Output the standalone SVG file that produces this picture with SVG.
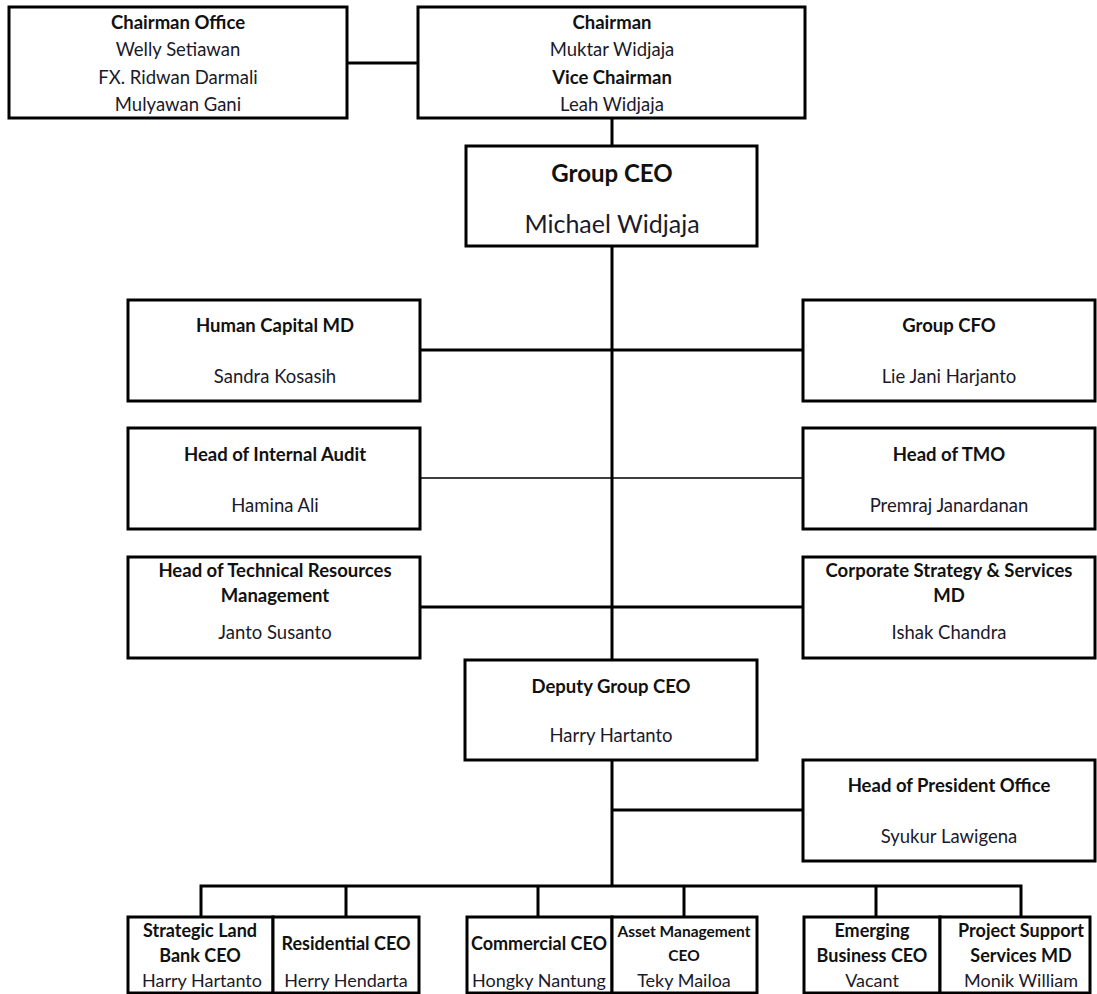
<svg xmlns="http://www.w3.org/2000/svg" width="1097" height="994" viewBox="0 0 1097 994">
<style>
.box{fill:#fff;stroke:#000;stroke-width:3}
.ln{fill:none;stroke:#000;stroke-width:3}
.thin{fill:none;stroke:#000;stroke-width:1.6}
text{font-family:Lato,"Liberation Sans",sans-serif;text-anchor:middle;dominant-baseline:central;fill:#111}
.b{font-weight:bold;font-size:18.5px}
.n{font-size:18.5px;fill:#1a1a2a}
.bl{font-weight:bold;font-size:24px}
.nl{font-size:25px;fill:#1a1a2a}
.bs{font-weight:bold;font-size:18.5px}
.ns{font-size:18.5px;fill:#1a1a2a}
.bx{font-weight:bold;font-size:18px}
.nx{font-size:18px;fill:#1a1a2a}
</style>
<rect width="1097" height="994" fill="#fff"/>
<g id="connectors">
<line class="ln" x1="347" y1="63" x2="418" y2="63"/>
<line class="ln" x1="612" y1="118" x2="612" y2="146"/>
<line class="ln" x1="612" y1="246" x2="612" y2="660"/>
<line class="ln" x1="420" y1="350" x2="803" y2="350"/>
<line class="thin" x1="420" y1="478" x2="803" y2="478"/>
<line class="ln" x1="420" y1="607" x2="803" y2="607"/>
<line class="ln" x1="612" y1="760" x2="612" y2="886"/>
<line class="ln" x1="612" y1="810" x2="803" y2="810"/>
<polyline class="ln" points="201,917 201,886 1021,886 1021,917"/>
<line class="ln" x1="346" y1="886" x2="346" y2="917"/>
<line class="ln" x1="538" y1="886" x2="538" y2="917"/>
<line class="ln" x1="684" y1="886" x2="684" y2="917"/>
<line class="ln" x1="876" y1="886" x2="876" y2="917"/>
</g>
<g id="chairman-office">
<rect class="box" x="9" y="7" width="338" height="111"/>
<text class="b" x="178" y="22">Chairman Office</text>
<text class="n" x="178" y="49">Welly Setiawan</text>
<text class="n" x="178" y="77">FX. Ridwan Darmali</text>
<text class="n" x="178" y="104">Mulyawan Gani</text>
</g>
<g id="chairman">
<rect class="box" x="418" y="7" width="387" height="111"/>
<text class="b" x="612" y="22">Chairman</text>
<text class="n" x="612" y="49">Muktar Widjaja</text>
<text class="b" x="612" y="77">Vice Chairman</text>
<text class="n" x="612" y="104">Leah Widjaja</text>
</g>
<g id="group-ceo">
<rect class="box" x="466" y="146" width="291" height="100"/>
<text class="bl" x="612" y="172">Group CEO</text>
<text class="nl" x="612" y="223">Michael Widjaja</text>
</g>
<g id="human-capital">
<rect class="box" x="128" y="300" width="292" height="101"/>
<text class="bs" x="275" y="325">Human Capital MD</text>
<text class="ns" x="275" y="376">Sandra Kosasih</text>
</g>
<g id="internal-audit">
<rect class="box" x="128" y="428" width="292" height="101"/>
<text class="bs" x="275" y="454">Head of Internal Audit</text>
<text class="ns" x="275" y="505">Hamina Ali</text>
</g>
<g id="technical-resources">
<rect class="box" x="128" y="557" width="292" height="101"/>
<text class="bs" x="275" y="570">Head of Technical Resources</text>
<text class="bs" x="275" y="595">Management</text>
<text class="ns" x="275" y="632">Janto Susanto</text>
</g>
<g id="group-cfo">
<rect class="box" x="803" y="300" width="292" height="101"/>
<text class="bs" x="949" y="325">Group CFO</text>
<text class="ns" x="949" y="376">Lie Jani Harjanto</text>
</g>
<g id="head-tmo">
<rect class="box" x="803" y="428" width="292" height="101"/>
<text class="bs" x="949" y="454">Head of TMO</text>
<text class="ns" x="949" y="505">Premraj Janardanan</text>
</g>
<g id="corporate-strategy">
<rect class="box" x="803" y="557" width="292" height="101"/>
<text class="bs" x="949" y="570">Corporate Strategy &amp; Services</text>
<text class="bs" x="949" y="595">MD</text>
<text class="ns" x="949" y="632">Ishak Chandra</text>
</g>
<g id="deputy-ceo">
<rect class="box" x="465" y="660" width="292" height="100"/>
<text class="bs" x="611" y="686">Deputy Group CEO</text>
<text class="ns" x="611" y="735">Harry Hartanto</text>
</g>
<g id="president-office">
<rect class="box" x="803" y="760" width="292" height="101"/>
<text class="bs" x="949" y="785">Head of President Office</text>
<text class="ns" x="949" y="836">Syukur Lawigena</text>
</g>
<g id="strategic-land">
<rect class="box" x="128" y="917" width="145" height="76"/>
<text class="bx" x="200" y="930">Strategic Land</text>
<text class="bx" x="200" y="955">Bank CEO</text>
<text class="nx" x="202" y="980">Harry Hartanto</text>
</g>
<g id="residential">
<rect class="box" x="273" y="917" width="146" height="76"/>
<text class="bx" x="346" y="943">Residential CEO</text>
<text class="nx" x="346" y="980">Herry Hendarta</text>
</g>
<g id="commercial">
<rect class="box" x="467" y="917" width="145" height="76"/>
<text class="bx" x="539" y="943">Commercial CEO</text>
<text class="nx" x="539" y="980">Hongky Nantung</text>
</g>
<g id="asset-management">
<rect class="box" x="612" y="917" width="145" height="76"/>
<text class="bx" x="684" y="931" style="font-size:15.5px">Asset Management</text>
<text class="bx" x="684" y="955" style="font-size:15.5px">CEO</text>
<text class="nx" x="684" y="980">Teky Mailoa</text>
</g>
<g id="emerging-business">
<rect class="box" x="804" y="917" width="136" height="76"/>
<text class="bx" x="872" y="930">Emerging</text>
<text class="bx" x="872" y="955">Business CEO</text>
<text class="nx" x="872" y="980">Vacant</text>
</g>
<g id="project-support">
<rect class="box" x="940" y="917" width="150" height="76"/>
<text class="bx" x="1021" y="930">Project Support</text>
<text class="bx" x="1021" y="955">Services MD</text>
<text class="nx" x="1021" y="980">Monik William</text>
</g>
</svg>
